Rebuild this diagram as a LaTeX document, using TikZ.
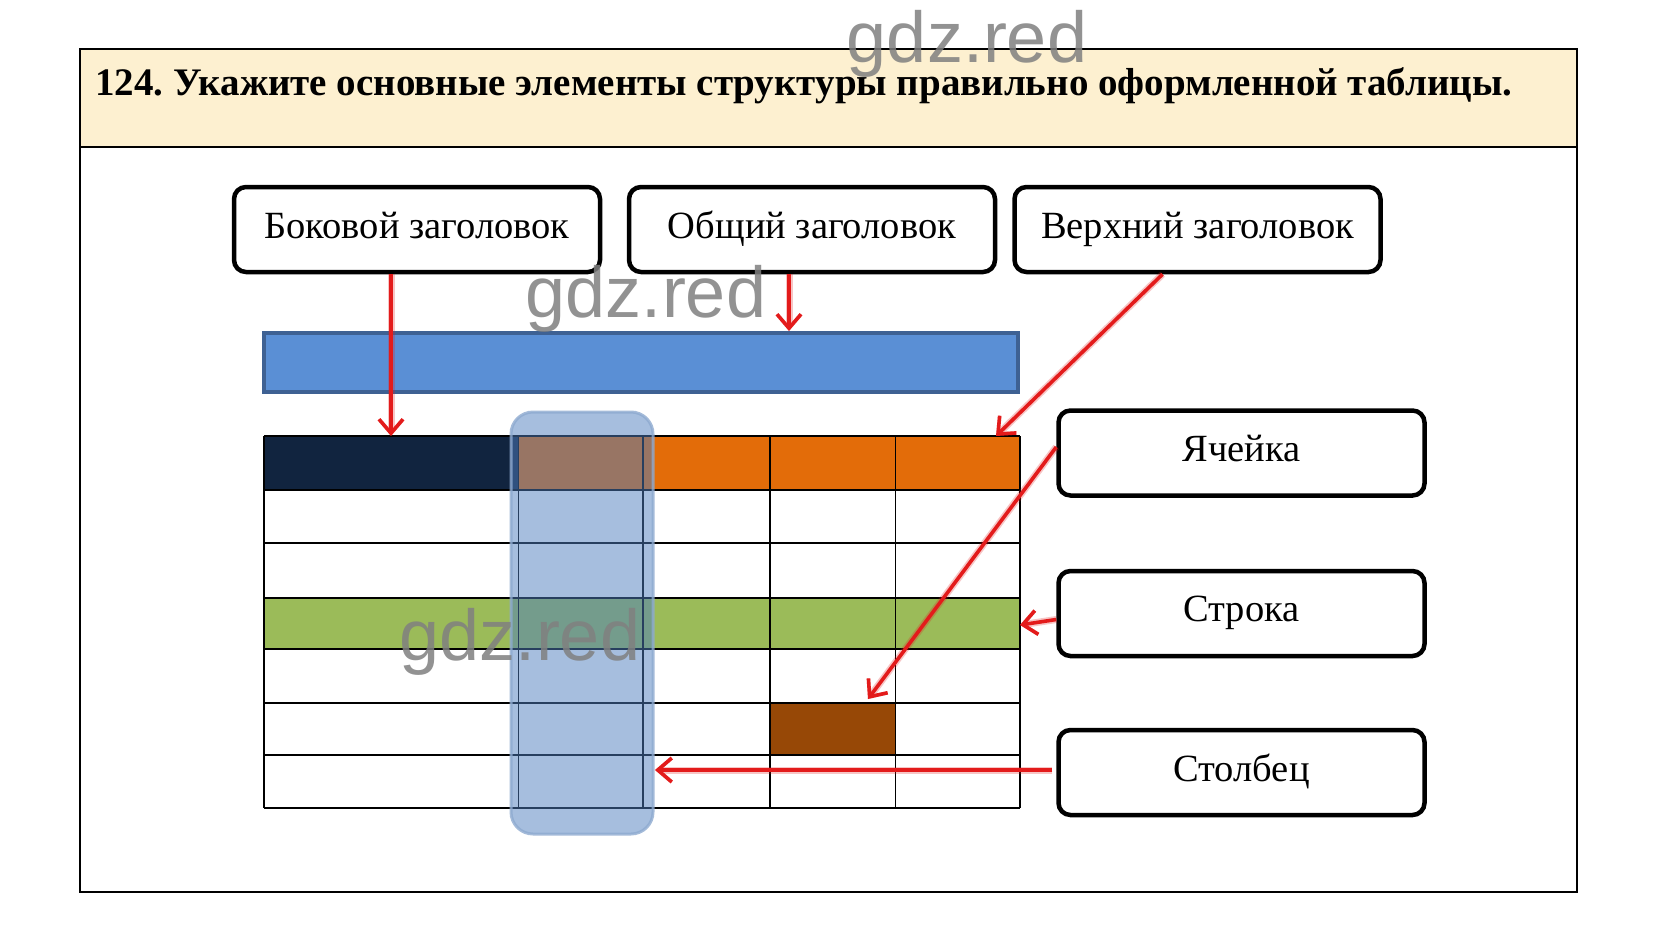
\documentclass[tikz,border=0pt]{standalone}
\usepackage{fontspec}
\setmainfont{Liberation Serif}
\newfontfamily\wmfont{Liberation Sans}
\usetikzlibrary{arrows.meta,calc}
\definecolor{beige}{HTML}{FDF0D0}
\definecolor{barfill}{HTML}{5A8FD5}
\definecolor{bardraw}{HTML}{3E6193}
\definecolor{navy}{HTML}{11243F}
\definecolor{orangec}{HTML}{E36C09}
\definecolor{greenc}{HTML}{9BBB59}
\definecolor{brownc}{HTML}{974806}
\definecolor{overfill}{HTML}{4F7FBF}
\definecolor{overdraw}{HTML}{8EAAD0}
\definecolor{arrowred}{HTML}{E31B1B}
\definecolor{wmgray}{HTML}{808080}
\frenchspacing
\begin{document}
\begin{tikzpicture}[x=1pt,y=-1pt,
  lbox/.style={draw=black, line width=4.5pt, rounded corners=12pt, fill=white,
    minimum width=366pt, minimum height=85pt, inner sep=0pt, text depth=9pt,
    font=\fontsize{38.5}{42}\selectfont},
  redarrow/.style={draw=arrowred, line width=3.6pt,
    preaction={draw=arrowred, draw opacity=0.25, line width=7pt},
    -{Straight Barb[length=14pt,width=24pt,line width=3.6pt]}},
  grid/.style={draw=black, line width=1.6pt},
  wm/.style={text=wmgray, opacity=0.85, inner sep=0pt, font=\wmfont\fontsize{72}{76}\selectfont}
]
\useasboundingbox (0,0) rectangle (1656,934);
\fill[white] (0,0) rectangle (1656,934);
% frame
\fill[beige] (80,49) rectangle (1577,147);
\draw[line width=2pt] (80,49) rectangle (1577,892);
\draw[line width=2pt] (80,147) -- (1577,147);
\node[anchor=west, inner sep=0pt, font=\bfseries\fontsize{39}{42}\selectfont] (title) at (95,86)
  {124. Укажите основные элементы структуры правильно оформленной таблицы.};

% label boxes
\node[lbox] (b1) at (417,229.5) {Боковой заголовок};
\node[lbox] (b2) at (812,229.5) {Общий заголовок};
\node[lbox] (b3) at (1197.5,229.5) {Верхний заголовок};
\node[lbox] (b4) at (1241.5,453) {Ячейка};
\node[lbox] (b5) at (1241.5,613.5) {Строка};
\node[lbox] (b6) at (1241.5,772.5) {Столбец};

% blue bar
\node[draw=bardraw, fill=barfill, line width=3.5pt, minimum width=754pt, minimum height=59pt, inner sep=0pt] (bar) at (641,362.5) {};

% table fills
\fill[navy] (264,436) rectangle (518.5,490);
\fill[orangec] (518.5,436) rectangle (1020,490);
\fill[greenc] (264,598) rectangle (1020,649);
\fill[brownc] (770,703) rectangle (895.5,755);
% grid
\foreach \y in {436,490,543,598,649,703,755,808} \draw[grid] (264,\y) -- (1020,\y);
\foreach \x in {264,518.5,643,770,895.5,1020} \draw[grid] (\x,436) -- (\x,808);
% column overlay
\node[draw=overdraw, fill=overfill, fill opacity=0.5, draw opacity=0.8, line width=3pt,
  rounded corners=22pt, minimum width=142pt, minimum height=422pt, inner sep=0pt] (col) at (582,623) {};

% targets
\coordinate (t1) at (391,436);
\coordinate (t2) at (789,331);
\coordinate (t3) at (996,436);
\coordinate (t4) at (868,699);
\coordinate (t5) at (1020,625);
\coordinate (t6) at (655,770);

\draw[redarrow] ([xshift=-26pt]b1.south) -- (t1);
\draw[redarrow] ([xshift=-23pt]b2.south) -- (t2);
\draw[redarrow] ([xshift=-35pt]b3.south) -- (t3);
\draw[redarrow] ([yshift=6pt]b4.west) -- (t4);
\draw[redarrow] ([yshift=-6pt]b5.west) -- (t5);
\draw[redarrow] ([xshift=-4pt]b6.west |- t6) -- (t6);

% watermarks
\node[wm] (w1) at (967,44) {gdz.red};
\node[wm] (w2) at (646,299) {gdz.red};
\node[wm] (w3) at (520,642) {gdz.red};
\end{tikzpicture}
\end{document}
